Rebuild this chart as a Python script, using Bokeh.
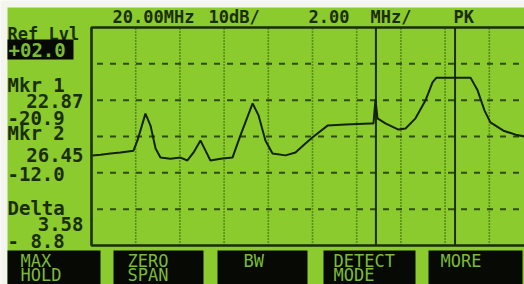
from bokeh.plotting import figure
from bokeh.models import Range1d
from bokeh.embed import file_html
from bokeh.resources import INLINE
from bokeh.core.properties import value

# ---------------- data ----------------
freq_mhz = [10.05, 10.41, 10.86, 11.31, 11.90, 12.08, 12.44, 12.67, 12.90, 13.12,
            13.57, 14.03, 14.34, 14.62, 14.93, 15.16, 15.38, 15.84, 16.38, 16.74,
            17.29, 17.56, 17.87, 18.19, 18.78, 19.23, 19.68, 20.05, 20.68, 21.49,
            22.62, 22.76, 22.85, 22.94, 23.30, 23.89, 24.21, 24.66, 25.11, 25.43,
            25.61, 27.15, 27.47, 27.78, 28.05, 28.64, 29.19, 29.60]
level_db = [-33.2, -33.0, -32.7, -32.4, -31.9, -29.1, -21.7, -25.0, -31.3, -33.8,
            -34.1, -33.8, -34.6, -32.4, -29.1, -31.9, -34.6, -34.1, -33.8, -27.7,
            -18.9, -22.2, -29.1, -32.7, -33.2, -32.4, -29.9, -28.0, -25.0, -24.7,
            -24.4, -24.4, -17.8, -23.0, -24.4, -26.1, -25.8, -23.0, -18.1, -13.1,
            -11.8, -11.8, -15.3, -20.8, -24.1, -26.4, -27.5, -28.0]

center_mhz = 20.00
mhz_per_div = 2.00
db_per_div = 10.0
ref_level_db = 2.0
n_xdiv = 10
n_ydiv = 6
marker_freqs = [22.87, 26.45]

header_texts = ["20.00MHz", "10dB/", "2.00", "MHz/", "PK"]
ref_label = "Ref Lvl"
ref_value = "+02.0"
side_left = ["Mkr 1", "-20.9", "Mkr 2", "-12.0", "Delta", "- 8.8"]
side_right = ["22.87", "26.45", "3.58"]
softkey_line1 = ["MAX", "ZERO", "BW", "DETECT", "MORE"]
softkey_line2 = ["HOLD", "SPAN", "", "MODE", ""]

# ---------------- layout ----------------
W, H = 524, 284
PX_MHZ = 22.1      # pixels per MHz
PX_DB = 3.633      # pixels per dB
FRAME_L, FRAME_T = 91, 27   # canvas px of the graticule's top-left corner

start_mhz = center_mhz - mhz_per_div * n_xdiv / 2
stop_mhz = center_mhz + mhz_per_div * n_xdiv / 2
bottom_db = ref_level_db - db_per_div * n_ydiv

x0 = start_mhz - FRAME_L / PX_MHZ
y1 = ref_level_db + FRAME_T / PX_DB


def X(cx):
    return x0 + cx / PX_MHZ


def Y(cy):
    return y1 - cy / PX_DB


BG = "#8ccb2e"
PAPER = "#f3f5ee"
INK = "#1a2e06"
GRID = "#2c4c0c"
KEYBG = "#070905"
KEYTXT = "#7cbb34"
FONT = value("DejaVu Sans Mono")

p = figure(width=W, height=H, output_backend="svg", toolbar_location=None,
           x_range=Range1d(x0, x0 + W / PX_MHZ), y_range=Range1d(y1 - H / PX_DB, y1),
           min_border=0)
p.axis.visible = False
p.grid.visible = False
p.outline_line_color = None
p.background_fill_color = PAPER
p.border_fill_color = PAPER

# LCD screen area
p.quad(left=[X(7)], right=[X(W + 2)], top=[Y(7)], bottom=[Y(H + 2)],
       fill_color=BG, line_color=None)

# graticule
xg = [start_mhz + mhz_per_div * k for k in range(1, n_xdiv)]
p.segment(x0=xg, y0=[bottom_db] * len(xg), x1=xg, y1=[ref_level_db] * len(xg),
          line_color=GRID, line_width=1.6, line_dash="1 2")
yg = [ref_level_db - db_per_div * k for k in range(1, n_ydiv)]
p.segment(x0=[start_mhz + 0.25] * len(yg), y0=yg, x1=[stop_mhz] * len(yg), y1=yg,
          line_color=GRID, line_width=2, line_dash="6 7")

# frame
p.line([stop_mhz, start_mhz, start_mhz, stop_mhz],
       [ref_level_db, ref_level_db, bottom_db, bottom_db],
       line_color=INK, line_width=2.6)

# marker lines
p.segment(x0=marker_freqs, y0=[bottom_db] * 2, x1=marker_freqs, y1=[ref_level_db] * 2,
          line_color=INK, line_width=2)

# trace
p.line(freq_mhz, level_db, line_color="#122204", line_width=2)

# header
hx = [112, 208, 308, 370, 453]
p.text(x=[X(v) for v in hx], y=[Y(16)] * len(hx), text=header_texts,
       text_font=FONT, text_font_size="17px", text_font_style="bold",
       text_color=INK, text_baseline="middle", text_align="left")

# left column
p.text(x=[X(7)], y=[Y(33)], text=[ref_label], text_font=FONT,
       text_font_size="17px", text_font_style="bold", text_color=INK,
       text_baseline="middle", text_align="left")
p.quad(left=[X(7)], right=[X(73)], top=[Y(39)], bottom=[Y(59)],
       fill_color=KEYBG, line_color=None)
p.text(x=[X(8)], y=[Y(49)], text=[ref_value], text_font=FONT,
       text_font_size="19px", text_font_style="bold", text_color=KEYTXT,
       text_baseline="middle", text_align="left")

ly = [84, 117, 132, 173, 207, 240]
p.text(x=[X(7)] * len(ly), y=[Y(v) for v in ly], text=side_left, text_font=FONT,
       text_font_size="19px", text_font_style="bold", text_color=INK,
       text_baseline="middle", text_align="left")
ry = [100, 154, 223]
p.text(x=[X(83)] * len(ry), y=[Y(v) for v in ry], text=side_right,
       text_font=FONT, text_font_size="19px", text_font_style="bold",
       text_color=INK, text_baseline="middle", text_align="right")

# softkeys
kl = [7, 113, 217, 323, 428]
kr = [100, 203, 307, 415, 522]
p.quad(left=[X(v) for v in kl], right=[X(v) for v in kr],
       top=[Y(250)] * 5, bottom=[Y(H + 5)] * 5, fill_color=KEYBG, line_color=None)
tx = [20, 127, 243, 333, 440]
p.text(x=[X(v) for v in tx], y=[Y(260)] * 5, text=softkey_line1,
       text_font=FONT, text_font_size="17px", text_color=KEYTXT,
       text_baseline="middle", text_align="left")
p.text(x=[X(v) for v in tx], y=[Y(274)] * 5, text=softkey_line2,
       text_font=FONT, text_font_size="17px", text_color=KEYTXT,
       text_baseline="middle", text_align="left")

open("out.html", "w").write(file_html(p, INLINE))
